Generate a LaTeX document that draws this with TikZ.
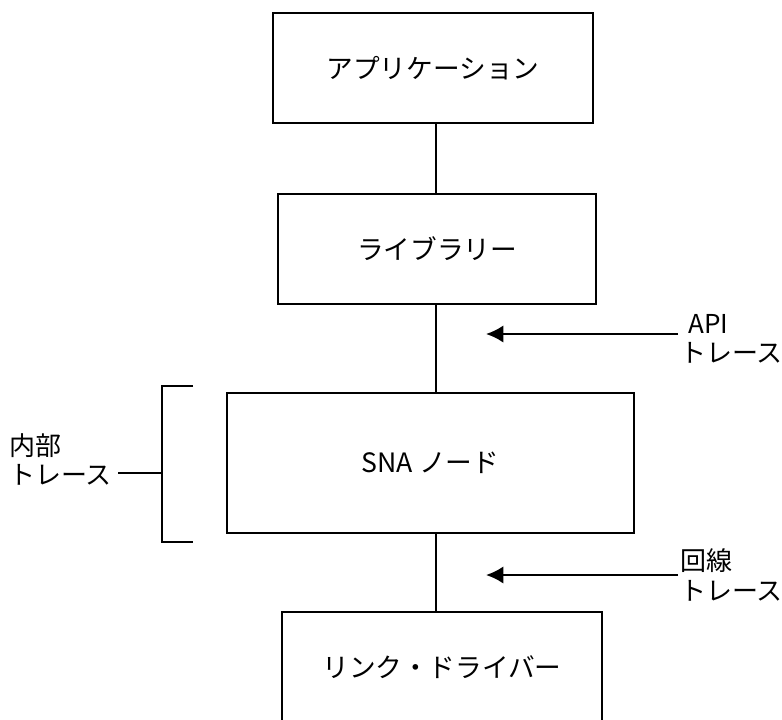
\documentclass[tikz,border=0pt]{standalone}
\usepackage{fontspec}
\setmainfont{Noto Sans CJK JP}
\usetikzlibrary{calc, arrows.meta}

\tikzset{
  every node/.style={font=\fontsize{20}{24}\selectfont},
  layer/.style={draw, line width=1.8pt, inner sep=0pt},
  link/.style={line width=1.7pt},
  tracearrow/.style={line width=1.7pt, -{Latex[length=13pt,width=13pt]}},
  note/.style={inner sep=0pt, anchor=west, font=\fontsize{19.5}{24}\selectfont},
}

\begin{document}
\begin{tikzpicture}[x=0.75pt, y=-0.75pt]
      \useasboundingbox (0,0) rectangle (782,719);
      \clip (0,0) rectangle (782,719);
      % layers
      \node[layer, minimum width=240pt, minimum height=82.5pt] (app) at (433,68) {アプリケーション};
      \node[layer, minimum width=238.5pt, minimum height=82.5pt] (lib) at (437,249) {ライブラリー};
      \node[layer, minimum width=305.25pt, minimum height=105pt] (sna) at (430.5,463) {SNA ノード};
      \node[layer, minimum width=240pt, minimum height=82.5pt] (drv) at (442,667) {リンク・ドライバー};
      \draw[link] (lib.north -| 436,0) -- (app.south -| 436,0);
      \draw[link] (lib.south -| 436,0) -- (sna.north -| 436,0);
      \draw[link] (sna.south -| 436,0) -- (drv.north -| 436,0);
      % API trace
      \node[note] (api) at (688,324) {API};
      \node[note] (apitr) at (680,353) {トレース};
      \coordinate (apifrom) at (678,334);
      \coordinate (apito) at (486,334);
      \draw[tracearrow] (apifrom) -- (apito);
      % line trace
      \node[note] (line) at (680,561) {回線};
      \node[note] (linetr) at (680,591) {トレース};
      \coordinate (linefrom) at (678,575);
      \coordinate (lineto) at (486,575);
      \draw[tracearrow] (linefrom) -- (lineto);
      % internal trace
      \coordinate (brtop) at (193,386);
      \coordinate (brbot) at (193,542);
      \coordinate (brmid) at (162,473);
      \draw[link] (brtop) -- (brtop -| brmid) -- (brbot -| brmid) -- (brbot);
      \node[note] (intl) at (9,446) {内部};
      \node[note] (inttr) at (9,475) {トレース};
      \draw[link] (inttr.east |- brmid) ++(6,0) -- (brmid);
\end{tikzpicture}
\end{document}
